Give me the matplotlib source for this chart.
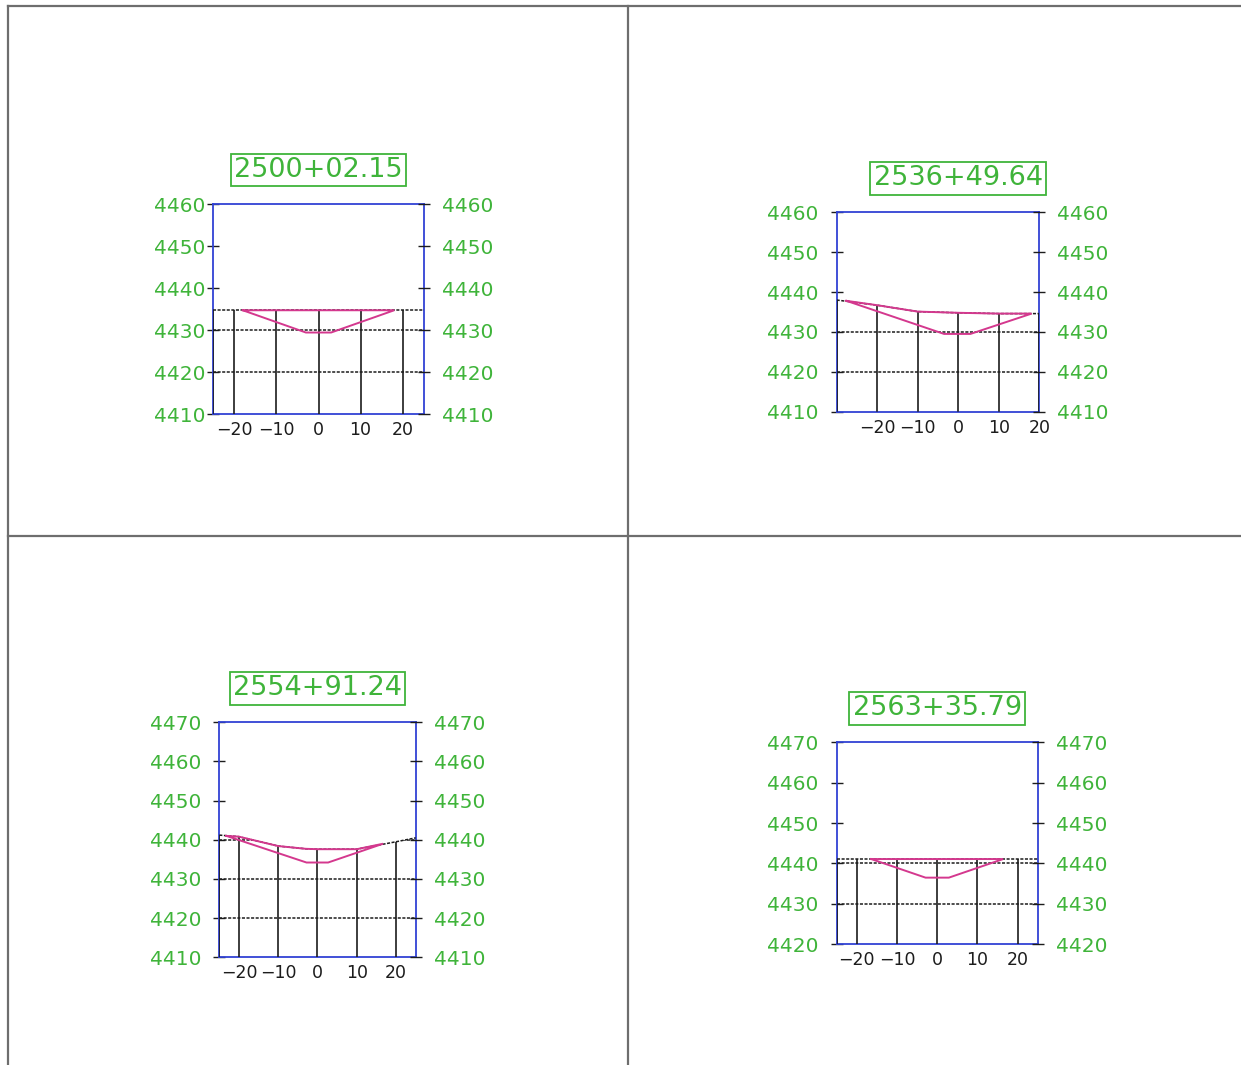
import numpy as np
import matplotlib
matplotlib.use("Agg")
import matplotlib.pyplot as plt
from matplotlib.patches import Polygon
from matplotlib.lines import Line2D

# ---------------------------------------------------------------------------
# Cross-section data (offset from centreline in ft, elevation in ft)
# ---------------------------------------------------------------------------
station_labels = ["2500+02.15", "2536+49.64", "2554+91.24", "2563+35.79"]
offset_ticks = [-20, -10, 0, 10, 20]

# existing ground profile
ground_x_1 = [-25, -20, -10, 0, 10, 20, 25]
ground_z_1 = [4434.7, 4434.7, 4434.7, 4434.7, 4434.7, 4434.7, 4434.7]
ground_x_2 = [-30, -20, -10, 0, 10, 20]
ground_z_2 = [4438.0, 4436.7, 4435.1, 4434.8, 4434.6, 4434.6]
ground_x_3 = [-25, -20, -10, -3, 0, 10, 20, 25]
ground_z_3 = [4441.2, 4440.8, 4438.4, 4437.7, 4437.6, 4437.6, 4439.5, 4440.5]
ground_x_4 = [-25, -20, -10, 0, 10, 20, 25]
ground_z_4 = [4441.1, 4441.1, 4441.1, 4441.1, 4441.1, 4441.1, 4441.1]

# design channel (left catch point, toe, toe, right catch point)
design_x_1 = [-18.0, -3.0, 3.0, 18.0]
design_z_1 = [4434.7, 4429.4, 4429.4, 4434.7]
design_x_2 = [-27.6, -3.5, 3.0, 18.1]
design_z_2 = [4437.8, 4429.5, 4429.5, 4434.6]
design_x_3 = [-23.2, -2.8, 2.7, 16.7]
design_z_3 = [4441.0, 4434.2, 4434.2, 4439.0]
design_x_4 = [-16.4, -2.9, 2.9, 16.4]
design_z_4 = [4441.1, 4436.5, 4436.5, 4441.1]

# plot extents
x_limits = [(-25, 25), (-30, 20), (-25, 25), (-25, 25)]
z_limits = [(4410, 4460), (4410, 4460), (4410, 4470), (4420, 4470)]

# ---------------------------------------------------------------------------
# Sheet layout (pixels, origin top-left)
# ---------------------------------------------------------------------------
W, H, DPI = 1241, 1065, 100
panel_px = [
    (213.3, 204.0, 423.7, 414.0),
    (836.7, 212.3, 1039.3, 411.7),
    (219.3, 722.3, 415.7, 957.3),
    (836.7, 742.3, 1037.7, 944.3),
]
left_gap_px = [8, 18, 18, 18]
right_gap_px = [18, 18, 18, 18]

GREEN = "#3fb43a"
MAGENTA = "#d4388e"
BLUE = "#3142d4"
INK = "#1c1c1c"
FRAME = "#6e6e6e"
FONT = "DejaVu Sans"
TICK_LEN = 8.5

plt.rcParams["font.family"] = [FONT]

fig = plt.figure(figsize=(W / DPI, H / DPI), dpi=DPI)
fig.patch.set_facecolor("white")

# sheet border and quadrant dividers
sheet_lines = [
    ([8 / W, 1.0], [1 - 5.5 / H, 1 - 5.5 / H]),
    ([8 / W, 8 / W], [0.0, 1 - 5.5 / H]),
    ([627.7 / W, 627.7 / W], [0.0, 1 - 5.5 / H]),
    ([8 / W, 1.0], [1 - 535.7 / H, 1 - 535.7 / H]),
]
for xs, ys in sheet_lines:
    fig.add_artist(Line2D(xs, ys, color=FRAME, lw=1.6, transform=fig.transFigure))

grounds = [(ground_x_1, ground_z_1), (ground_x_2, ground_z_2),
           (ground_x_3, ground_z_3), (ground_x_4, ground_z_4)]
designs = [(design_x_1, design_z_1), (design_x_2, design_z_2),
           (design_x_3, design_z_3), (design_x_4, design_z_4)]


def px_to_pt(p):
    return p * 72.0 / DPI


for i in range(4):
    x0, y0, x1, y1 = panel_px[i]
    ax = fig.add_axes([x0 / W, 1 - y1 / H, (x1 - x0) / W, (y1 - y0) / H])
    xlim, zlim = x_limits[i], z_limits[i]
    ax.set_xlim(*xlim)
    ax.set_ylim(*zlim)
    ax.set_facecolor("none")
    zticks = np.arange(zlim[0], zlim[1] + 1, 10)

    for sp in ax.spines.values():
        sp.set_color(BLUE)
        sp.set_linewidth(1.3)

    ax.set_xticks(offset_ticks)
    ax.set_yticks(zticks)
    ax.tick_params(axis="x", length=0, labelsize=12.5, labelcolor=INK,
                   pad=px_to_pt(7))
    ax.tick_params(axis="y", direction="inout", length=TICK_LEN, width=1.0,
                   color=INK, labelcolor=GREEN, labelsize=14.5,
                   left=True, right=False, labelleft=True, labelright=False,
                   pad=px_to_pt(left_gap_px[i]) - TICK_LEN / 2)

    # right-hand elevation scale
    tw = ax.twinx()
    tw.set_ylim(*zlim)
    tw.set_yticks(zticks)
    for sp in tw.spines.values():
        sp.set_visible(False)
    tw.tick_params(axis="y", direction="inout", length=TICK_LEN, width=1.0,
                   color=INK, labelcolor=GREEN, labelsize=14.5,
                   left=False, right=True, labelleft=False, labelright=True,
                   pad=px_to_pt(right_gap_px[i]) - TICK_LEN / 2)

    gx = np.asarray(grounds[i][0], dtype=float)
    gz = np.asarray(grounds[i][1], dtype=float)

    # region below existing ground, used to clip the grid
    verts = [(xlim[0] - 1, zlim[0]), (xlim[0] - 1, np.interp(xlim[0], gx, gz))]
    verts += list(zip(gx, gz))
    verts += [(xlim[1] + 1, np.interp(xlim[1], gx, gz)), (xlim[1] + 1, zlim[0])]
    clip = Polygon(verts, closed=True, transform=ax.transData,
                   facecolor="none", edgecolor="none")
    ax.add_patch(clip)

    inner_z = [z for z in zticks if zlim[0] < z < zlim[1]]
    hl = ax.hlines(inner_z, xlim[0], xlim[1], colors=INK, lw=1.1,
                   linestyles=(0, (2.0, 1.0)), zorder=3)
    hl.set_clip_path(clip)
    verticals = list(offset_ticks)
    if gx[0] not in verticals and xlim[0] <= gx[0]:
        verticals.append(gx[0])
    vl = ax.vlines(verticals, zlim[0], zlim[1], colors=INK, lw=1.2, zorder=3)
    vl.set_clip_path(clip)

    # existing ground line
    ax.plot(gx, gz, color=INK, lw=1.1, ls=(0, (2.0, 1.0)), zorder=3.2)

    # design channel outline closed along the ground between catch points
    dx = list(designs[i][0])
    dz = list(designs[i][1])
    inside = (gx > dx[0]) & (gx < dx[-1])
    px_ = dx + list(gx[inside][::-1]) + [dx[0]]
    pz_ = dz + list(gz[inside][::-1]) + [dz[0]]
    ax.plot(px_, pz_, color=MAGENTA, lw=1.4, zorder=3.4,
            solid_joinstyle="miter")

    # station label
    ax.annotate(station_labels[i], xy=(0, 1), xycoords=("data", "axes fraction"),
                xytext=(0, px_to_pt(34)), textcoords="offset points",
                ha="center", va="center", fontsize=19.5, color=GREEN,
                bbox=dict(boxstyle="square,pad=0.12", fc="white", ec=GREEN, lw=1.3),
                annotation_clip=False)

fig.savefig("out.png", dpi=DPI, facecolor="white")
